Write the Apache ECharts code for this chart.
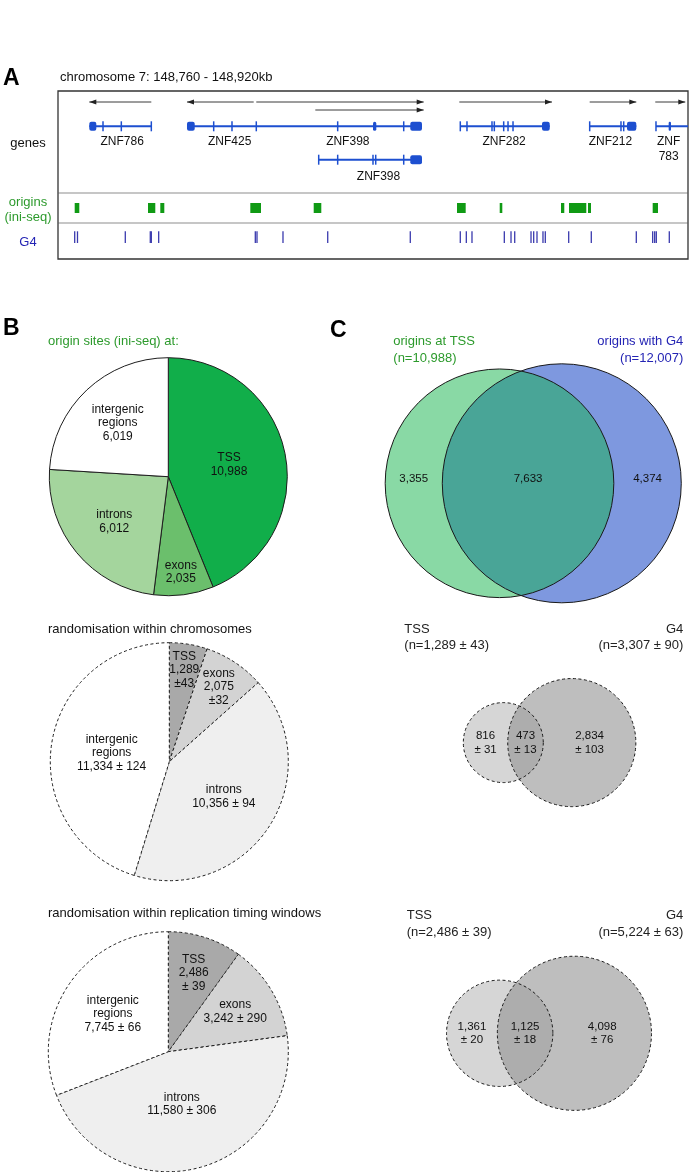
<!DOCTYPE html>
<html><head><meta charset="utf-8">
<script src="https://cdn.jsdelivr.net/npm/echarts@6/dist/echarts.min.js"></script>
<style>html,body{margin:0;padding:0;background:#fff}#c{width:689px;height:1172px}</style>
</head><body><div id="c"></div>
<script>
// ================= DATA =================
// Panel A: chromosome 7 region, kb
const genomeRange = [148760, 148920];
const geneNames  = ['ZNF786', 'ZNF425', 'ZNF398', 'ZNF398', 'ZNF282', 'ZNF212', 'ZNF\n783'];
const geneRow    = [0, 0, 0, 1, 0, 0, 0];
const geneStrand = ['-', '-', '+', '+', '+', '+', '+'];
const geneStart  = [148767.95, 148792.76, 148810.36, 148826.21, 148862.17, 148895.03, 148911.87];
const geneEnd    = [148783.70, 148810.36, 148852.44, 148852.44, 148884.88, 148906.87, 148920.00];
const arrowRow   = [0, 0, 0, 1, 0, 0, 0];
const arrowStart = [148767.95, 148792.76, 148810.36, 148825.35, 148861.92, 148895.03, 148911.69];
const arrowEnd   = [148783.70, 148809.70, 148852.88, 148852.88, 148885.46, 148906.87, 148919.31];
const geneLabelPos = [148776.3, 148803.6, 148833.6, 148841.4, 148873.3, 148900.3, 148915.1];
const geneExonTicks = [
  [148771.43, 148776.08, 148783.70],
  [148799.54, 148804.19, 148810.36],
  [148831.03, 148847.80],
  [148826.21, 148831.03, 148840.00, 148840.69, 148847.80],
  [148862.17, 148863.87, 148870.22, 148870.81, 148873.19, 148874.29, 148875.56],
  [148895.03, 148902.98, 148903.67],
  [148911.87]
];
const geneBlocks = [
  [[148767.95, 148769.73]],
  [[148792.76, 148794.72]],
  [[148840.00, 148840.84], [148849.47, 148852.44]],
  [[148849.47, 148852.44]],
  [[148882.92, 148884.88]],
  [[148904.51, 148906.87]],
  [[148915.09, 148915.68]]
];
const originStart = [148764.24, 148782.86, 148785.98, 148808.84, 148824.94, 148861.33, 148872.18, 148887.75, 148889.78, 148894.60, 148911.03];
const originEnd   = [148765.41, 148784.71, 148787.00, 148811.56, 148826.87, 148863.54, 148872.84, 148888.58, 148894.17, 148895.37, 148912.38];
const g4Pos = [148764.24, 148764.95, 148777.09, 148783.44, 148783.70, 148785.57, 148810.11, 148810.54,
  148817.14, 148828.50, 148849.47, 148862.17, 148863.70, 148865.14, 148873.35, 148875.05, 148875.99,
  148880.13, 148880.81, 148881.65, 148883.17, 148883.76, 148889.70, 148895.44, 148906.87,
  148911.03, 148911.54, 148911.95, 148915.25];

// Panel B: pies
const pieCategories = ['TSS', 'exons', 'introns', 'intergenic\nregions'];
const observedCounts = [10988, 2035, 6012, 6019];
const randChromCounts = [1289, 2075, 10356, 11334];
const randChromSd     = [43, 32, 94, 124];
const randRTCounts = [2486, 3242, 11580, 7745];
const randRTSd     = [39, 290, 306, 66];

// Panel C: Venns  [TSS, G4] totals; regions [TSS only, both, G4 only]
const vennSetNames = ['TSS', 'G4'];
const vennTotals    = [[10988, 12007], [1289, 3307], [2486, 5224]];
const vennTotalsSd  = [[null, null], [43, 90], [39, 63]];
const vennRegions   = [[3355, 7633, 4374], [816, 473, 2834], [1361, 1125, 4098]];
const vennRegionsSd = [[null, null, null], [31, 13, 103], [20, 18, 76]];

// ================= STYLE / LAYOUT =================
const FONT = '"Liberation Sans", Arial, Helvetica, sans-serif';
const GENE_COLOR = '#1d4fd0';
const GREEN_TXT = '#2c9a2c';
const BLUE_TXT = '#2424b4';
const trackY = { arrow: [11, 19], gene: [35.3, 68.7], label: [43.5, 77.8], origin: [112, 122], g4: [140.3, 152] };
const pieColorsObs = ['#11ae4a', '#6bbf6c', '#a4d59d', '#ffffff'];
const pieColorsRand = ['#a9a9a9', '#d3d3d3', '#efefef', '#ffffff'];
const pieLayout = [
  { center: [168.3, 476.7], r: 119, fracs: [0.52, 0.81, 0.59, 0.62] },
  { center: [169.3, 761.7], r: 119, fracs: [0.78, 0.755, 0.545, 0.49] },
  { center: [168.3, 1051.7], r: 120, fracs: [0.69, 0.65, 0.45, 0.56] }
];
const vennLayout = [
  { cx: 499.5, cy: 483.3, s: 1.933, fills: ['#89d9a5', '#7e98df', '#49a597'], dash: null, labelDy: -4 },
  { cx: 503.3, cy: 742.6, s: 1.974, fills: ['#d6d6d6', '#bebebe', '#adadad'], dash: [3, 2.5], labelDy: 0 },
  { cx: 499.7, cy: 1033.3, s: 1.89, fills: ['#d6d6d6', '#bebebe', '#adadad'], dash: [3, 2.5], labelDy: 0 }
];

const fmt = n => String(n).replace(/\B(?=(\d{3})+(?!\d))/g, ',');
function txtStyle(text, size, color, align, valign, extra) {
  return Object.assign({
    text: text, font: size + 'px ' + FONT, fill: color || '#111',
    align: align || 'left', textAlign: align || 'left',
    verticalAlign: valign || 'middle', textVerticalAlign: valign || 'middle'
  }, extra || {});
}

// ---- Venn geometry (area proportional) ----
function lensArea(d, r1, r2) {
  if (d >= r1 + r2) return 0;
  if (d <= Math.abs(r1 - r2)) return Math.PI * Math.min(r1, r2) ** 2;
  const a = r1 * r1 * Math.acos((d * d + r1 * r1 - r2 * r2) / (2 * d * r1));
  const b = r2 * r2 * Math.acos((d * d + r2 * r2 - r1 * r1) / (2 * d * r2));
  const c = 0.5 * Math.sqrt((-d + r1 + r2) * (d + r1 - r2) * (d - r1 + r2) * (d + r1 + r2));
  return a + b - c;
}
function solveDistance(r1, r2, area) {
  let lo = Math.abs(r1 - r2), hi = r1 + r2;
  for (let i = 0; i < 80; i++) {
    const mid = (lo + hi) / 2;
    if (lensArea(mid, r1, r2) > area) lo = mid; else hi = mid;
  }
  return (lo + hi) / 2;
}

// ================= RENDERERS =================
function renderGene(params, api) {
  const i = params.dataIndex;
  const yG = trackY.gene[geneRow[i]];
  const p0 = api.coord([geneStart[i], yG]);
  const p1 = api.coord([geneEnd[i], yG]);
  const ch = [];
  ch.push({ type: 'line', shape: { x1: p0[0], y1: p0[1], x2: p1[0], y2: p1[1] }, style: { stroke: GENE_COLOR, lineWidth: 2 } });
  geneExonTicks[i].forEach(t => {
    const p = api.coord([t, yG]);
    ch.push({ type: 'line', shape: { x1: p[0], y1: p[1] - 5, x2: p[0], y2: p[1] + 5 }, style: { stroke: GENE_COLOR, lineWidth: 1.5 } });
  });
  geneBlocks[i].forEach(b => {
    const a = api.coord([b[0], yG]), c = api.coord([b[1], yG]);
    ch.push({ type: 'rect', shape: { x: a[0], y: a[1] - 4.5, width: Math.max(c[0] - a[0], 2), height: 9, r: 2 }, style: { fill: GENE_COLOR } });
  });
  const yA = trackY.arrow[arrowRow[i]];
  const a0 = api.coord([arrowStart[i], yA]), a1 = api.coord([arrowEnd[i], yA]);
  ch.push({ type: 'line', shape: { x1: a0[0], y1: a0[1], x2: a1[0], y2: a1[1] }, style: { stroke: '#3a3a3a', lineWidth: 1 } });
  const tip = geneStrand[i] === '+' ? a1 : a0;
  const dir = geneStrand[i] === '+' ? -1 : 1;
  ch.push({ type: 'polygon', shape: { points: [[tip[0], tip[1]], [tip[0] + dir * 7, tip[1] - 2.6], [tip[0] + dir * 7, tip[1] + 2.6]] }, style: { fill: '#222' } });
  const lp = api.coord([geneLabelPos[i], trackY.label[geneRow[i]]]);
  ch.push({ type: 'text', x: lp[0], y: lp[1], style: txtStyle(geneNames[i], 12, '#111', 'center', 'top', { lineHeight: 15 }) });
  return { type: 'group', children: ch };
}
function renderOrigin(params, api) {
  const i = params.dataIndex;
  const a = api.coord([originStart[i], trackY.origin[0]]);
  const b = api.coord([originEnd[i], trackY.origin[1]]);
  return { type: 'rect', shape: { x: a[0], y: a[1], width: Math.max(b[0] - a[0], 2.5), height: b[1] - a[1] }, style: { fill: '#109a14' } };
}
function renderG4(params, api) {
  const i = params.dataIndex;
  const a = api.coord([g4Pos[i], trackY.g4[0]]);
  const b = api.coord([g4Pos[i], trackY.g4[1]]);
  return { type: 'line', shape: { x1: a[0], y1: a[1], x2: b[0], y2: b[1] }, style: { stroke: '#3a3aae', lineWidth: 1.3 } };
}
function makeVennRender(k) {
  return function (params, api) {
    const L = vennLayout[k];
    const [nA, nB] = vennTotals[k];
    const rA = Math.sqrt(nA / Math.PI), rB = Math.sqrt(nB / Math.PI);
    const d = solveDistance(rA, rB, vennRegions[k][1]);
    const cA = api.coord([0, 0]), cB = api.coord([d, 0]);
    const pA = api.size([rA, 0])[0], pB = api.size([rB, 0])[0];
    const dp = cB[0] - cA[0];
    const xi = (dp * dp + pA * pA - pB * pB) / (2 * dp);
    const h = Math.sqrt(Math.max(pA * pA - xi * xi, 0));
    const P1 = [cA[0] + xi, cA[1] - h], P2 = [cA[0] + xi, cA[1] + h];
    const largeB = xi > dp ? 1 : 0, largeA = xi < 0 ? 1 : 0;
    const lens = 'M' + P1[0] + ' ' + P1[1] + ' A' + pB + ' ' + pB + ' 0 ' + largeB + ' 0 ' + P2[0] + ' ' + P2[1] +
                 ' A' + pA + ' ' + pA + ' 0 ' + largeA + ' 0 ' + P1[0] + ' ' + P1[1] + ' Z';
    const stroke = { stroke: '#1a1a1a', lineWidth: 1, fill: null };
    if (L.dash) stroke.lineDash = L.dash;
    const ch = [
      { type: 'circle', shape: { cx: cA[0], cy: cA[1], r: pA }, style: { fill: L.fills[0] } },
      { type: 'circle', shape: { cx: cB[0], cy: cB[1], r: pB }, style: { fill: L.fills[1] } },
      { type: 'path', shape: { pathData: lens }, style: { fill: L.fills[2] } },
      { type: 'circle', shape: { cx: cA[0], cy: cA[1], r: pA }, style: Object.assign({}, stroke) },
      { type: 'circle', shape: { cx: cB[0], cy: cB[1], r: pB }, style: Object.assign({}, stroke) }
    ];
    const xs = [
      ((cA[0] - pA) + (cB[0] - pB)) / 2,
      ((cB[0] - pB) + (cA[0] + pA)) / 2,
      ((cA[0] + pA) + (cB[0] + pB)) / 2
    ];
    vennRegions[k].forEach((n, j) => {
      const sd = vennRegionsSd[k][j];
      const t = sd == null ? fmt(n) : fmt(n) + '\n± ' + sd;
      ch.push({ type: 'text', x: xs[j], y: cA[1] + L.labelDy, style: txtStyle(t, 11.5, '#111', 'center', 'middle', { lineHeight: 13.6 }) });
    });
    return { type: 'group', children: ch };
  };
}

// ================= STATIC TEXT (graphic) =================
const graphics = [];
function addText(x, y, text, size, color, align, extra) {
  graphics.push({ type: 'text', x: x, y: y, z: 100, style: txtStyle(text, size, color, align, 'middle', extra) });
}
// separators in panel A
[193, 223].forEach(y => graphics.push({ type: 'line', shape: { x1: 58.5, y1: y, x2: 687.5, y2: y }, style: { stroke: '#c6c6c6', lineWidth: 2 }, z: 1 }));
// panel letters
addText(3, 78.5, 'A', 23, '#000', 'left', { font: 'bold 23px ' + FONT });
addText(3, 328.5, 'B', 23, '#000', 'left', { font: 'bold 23px ' + FONT });
addText(330, 331, 'C', 23, '#000', 'left', { font: 'bold 23px ' + FONT });
addText(60, 77, 'chromosome 7: ' + fmt(genomeRange[0]) + ' - ' + fmt(genomeRange[1]) + 'kb', 13, '#111', 'left');
addText(28, 143, 'genes', 13, '#111', 'center');
addText(28, 209.5, 'origins\n(ini-seq)', 13, GREEN_TXT, 'center', { lineHeight: 15 });
addText(28, 242, 'G4', 13, BLUE_TXT, 'center');
// panel B titles
addText(48, 341.7, 'origin sites (ini-seq) at:', 13, GREEN_TXT, 'left');
addText(48, 629.3, 'randomisation within chromosomes', 13, '#111', 'left');
addText(48, 913.3, 'randomisation within replication timing windows', 13, '#111', 'left');
// pie labels
const pieTexts = [
  observedCounts.map((v, i) => pieCategories[i] + '\n' + fmt(v)),
  randChromCounts.map((v, i) => i < 2 ? pieCategories[i] + '\n' + fmt(v) + '\n±' + randChromSd[i] : pieCategories[i] + '\n' + fmt(v) + ' ± ' + randChromSd[i]),
  randRTCounts.map((v, i) => i === 0 ? pieCategories[i] + '\n' + fmt(v) + '\n± ' + randRTSd[i] : pieCategories[i] + '\n' + fmt(v) + ' ± ' + randRTSd[i])
];
[observedCounts, randChromCounts, randRTCounts].forEach((vals, p) => {
  const L = pieLayout[p];
  const total = vals.reduce((a, b) => a + b, 0);
  let cum = 0;
  vals.forEach((v, i) => {
    const mid = (cum + v / 2) / total * 2 * Math.PI; cum += v;
    const x = L.center[0] + L.fracs[i] * L.r * Math.sin(mid);
    const y = L.center[1] - L.fracs[i] * L.r * Math.cos(mid);
    addText(x, y, pieTexts[p][i], 12, '#111', 'center', { lineHeight: 13.5 });
  });
});
// venn set titles
const vennTitlePos = [[393.3, 350], [404.3, 637.2], [406.7, 923.8]];
vennTotals.forEach((tot, k) => {
  const sdA = vennTotalsSd[k][0], sdB = vennTotalsSd[k][1];
  const nA = '(n=' + fmt(tot[0]) + (sdA == null ? '' : ' ± ' + sdA) + ')';
  const nB = '(n=' + fmt(tot[1]) + (sdB == null ? '' : ' ± ' + sdB) + ')';
  const tA = k === 0 ? 'origins at ' + vennSetNames[0] : vennSetNames[0];
  const tB = k === 0 ? 'origins with ' + vennSetNames[1] : vennSetNames[1];
  addText(vennTitlePos[k][0], vennTitlePos[k][1], tA + '\n' + nA, 13, k === 0 ? GREEN_TXT : '#222', 'left', { lineHeight: 16.5 });
  addText(683.3, vennTitlePos[k][1], tB + '\n' + nB, 13, k === 0 ? BLUE_TXT : '#222', 'right', { lineHeight: 16.5 });
});

// ================= OPTION =================
const grids = [{ left: 58, top: 91, width: 630, height: 168, show: true, borderColor: '#333', borderWidth: 1.3, backgroundColor: 'transparent', z: 2 }];
const xAxes = [{ gridIndex: 0, type: 'value', min: genomeRange[0], max: genomeRange[1], show: false }];
const yAxes = [{ gridIndex: 0, type: 'value', min: 0, max: 168, inverse: true, show: false }];
vennLayout.forEach((L, k) => {
  grids.push({ left: L.cx - 50 * L.s, top: L.cy - 50 * L.s, width: 100 * L.s, height: 100 * L.s, show: false });
  xAxes.push({ gridIndex: k + 1, type: 'value', min: -50, max: 50, show: false });
  yAxes.push({ gridIndex: k + 1, type: 'value', min: -50, max: 50, show: false });
});

const series = [
  { type: 'custom', xAxisIndex: 0, yAxisIndex: 0, renderItem: renderGene, clip: false, silent: true,
    data: geneNames.map((n, i) => [geneStart[i], geneEnd[i]]), encode: { x: [0, 1] } },
  { type: 'custom', xAxisIndex: 0, yAxisIndex: 0, renderItem: renderOrigin, silent: true,
    data: originStart.map((s, i) => [s, originEnd[i]]), encode: { x: [0, 1] } },
  { type: 'custom', xAxisIndex: 0, yAxisIndex: 0, renderItem: renderG4, silent: true,
    data: g4Pos.map(p => [p]), encode: { x: 0 } }
];
[observedCounts, randChromCounts, randRTCounts].forEach((vals, p) => {
  const L = pieLayout[p];
  const colors = p === 0 ? pieColorsObs : pieColorsRand;
  series.push({
    type: 'pie', center: L.center, radius: [0, L.r], startAngle: 90, clockwise: true, silent: true,
    label: { show: false }, labelLine: { show: false }, emphasis: { disabled: true },
    itemStyle: { borderColor: '#1e1e1e', borderWidth: 1, borderType: p === 0 ? 'solid' : [3, 2.5] },
    data: vals.map((v, i) => ({ name: pieCategories[i], value: v, itemStyle: { color: colors[i] } }))
  });
});
vennLayout.forEach((L, k) => {
  series.push({ type: 'custom', xAxisIndex: k + 1, yAxisIndex: k + 1, renderItem: makeVennRender(k), clip: false, silent: true,
    data: [[0, 0]] });
});

const chart = echarts.init(document.getElementById('c'), null, { renderer: 'canvas' });
chart.setOption({
  animation: false,
  backgroundColor: '#ffffff',
  grid: grids, xAxis: xAxes, yAxis: yAxes,
  series: series,
  graphic: { elements: graphics }
});
</script></body></html>
